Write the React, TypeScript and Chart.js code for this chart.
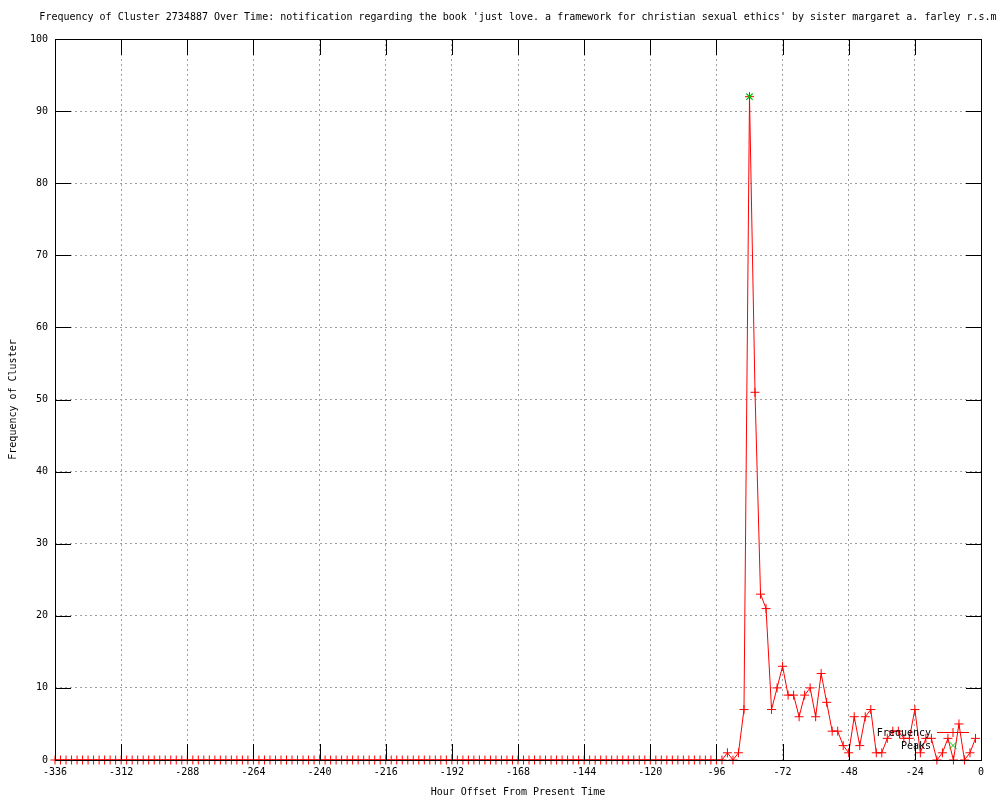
import React, { useEffect, useRef } from "react";
import { Chart, registerables } from "chart.js";

Chart.register(...registerables);

const titleText =
  "Frequency of Cluster 2734887 Over Time: notification regarding the book 'just love. a framework for christian sexual ethics' by sister margaret a. farley r.s.m";
const xAxisTitle = "Hour Offset From Present Time";
const yAxisTitle = "Frequency of Cluster";
const seriesName = "Frequency";
const peaksName = "Peaks";

const hours: number[] = [
  -336, -334, -332, -330, -328, -326, -324, -322, -320, -318, -316, -314,
  -312, -310, -308, -306, -304, -302, -300, -298, -296, -294, -292, -290,
  -288, -286, -284, -282, -280, -278, -276, -274, -272, -270, -268, -266,
  -264, -262, -260, -258, -256, -254, -252, -250, -248, -246, -244, -242,
  -240, -238, -236, -234, -232, -230, -228, -226, -224, -222, -220, -218,
  -216, -214, -212, -210, -208, -206, -204, -202, -200, -198, -196, -194,
  -192, -190, -188, -186, -184, -182, -180, -178, -176, -174, -172, -170,
  -168, -166, -164, -162, -160, -158, -156, -154, -152, -150, -148, -146,
  -144, -142, -140, -138, -136, -134, -132, -130, -128, -126, -124, -122,
  -120, -118, -116, -114, -112, -110, -108, -106, -104, -102, -100, -98,
  -96, -94, -92, -90, -88, -86, -84, -82, -80, -78, -76, -74,
  -72, -70, -68, -66, -64, -62, -60, -58, -56, -54, -52, -50,
  -48, -46, -44, -42, -40, -38, -36, -34, -32, -30, -28, -26,
  -24, -22, -20, -18, -16, -14, -12, -10, -8, -6, -4, -2,
];

const frequency: number[] = [
  0, 0, 0, 0, 0, 0, 0, 0, 0, 0, 0, 0,
  0, 0, 0, 0, 0, 0, 0, 0, 0, 0, 0, 0,
  0, 0, 0, 0, 0, 0, 0, 0, 0, 0, 0, 0,
  0, 0, 0, 0, 0, 0, 0, 0, 0, 0, 0, 0,
  0, 0, 0, 0, 0, 0, 0, 0, 0, 0, 0, 0,
  0, 0, 0, 0, 0, 0, 0, 0, 0, 0, 0, 0,
  0, 0, 0, 0, 0, 0, 0, 0, 0, 0, 0, 0,
  0, 0, 0, 0, 0, 0, 0, 0, 0, 0, 0, 0,
  0, 0, 0, 0, 0, 0, 0, 0, 0, 0, 0, 0,
  0, 0, 0, 0, 0, 0, 0, 0, 0, 0, 0, 0,
  0, 0, 1, 0, 1, 7, 92, 51, 23, 21, 7, 10,
  13, 9, 9, 6, 9, 10, 6, 12, 8, 4, 4, 2,
  1, 6, 2, 6, 7, 1, 1, 3, 4, 4, 3, 3,
  7, 1, 3, 3, 0, 1, 3, 0, 5, 0, 1, 3,
];

const peakHours: number[] = [-84];
const peakValues: number[] = [92];

const xMin = -336;
const xMax = 0;
const xStep = 24;
const yMin = 0;
const yMax = 100;
const yStep = 10;

const FONT = "'DejaVu Sans Mono', 'Liberation Mono', monospace";
const RED = "#ff0000";
const GREEN = "#00c000";

const decorPlugin = {
  id: "gnuplotDecor",
  afterDatasetsDraw(chart: any) {
    const { ctx, chartArea, scales } = chart;
    const { left, right, top, bottom } = chartArea;
    ctx.save();
    ctx.strokeStyle = "#000";
    ctx.lineWidth = 1;
    ctx.setLineDash([]);
    ctx.strokeRect(left + 0.5, top + 0.5, right - left, bottom - top);
    ctx.beginPath();
    for (const t of scales.x.ticks) {
      const px = Math.round(scales.x.getPixelForValue(t.value)) + 0.5;
      ctx.moveTo(px, bottom);
      ctx.lineTo(px, bottom - 16);
      ctx.moveTo(px, top);
      ctx.lineTo(px, top + 16);
    }
    for (const t of scales.y.ticks) {
      const py = Math.round(scales.y.getPixelForValue(t.value)) + 0.5;
      ctx.moveTo(left, py);
      ctx.lineTo(left + 16, py);
      ctx.moveTo(right + 1, py);
      ctx.lineTo(right - 15, py);
    }
    ctx.stroke();
    ctx.restore();
  },
  afterDraw(chart: any) {
    const { ctx, chartArea } = chart;
    const cx = (chartArea.left + chartArea.right) / 2;
    ctx.save();
    ctx.fillStyle = "#000";
    ctx.font = `10px ${FONT}`;
    ctx.textAlign = "center";
    ctx.textBaseline = "middle";
    ctx.fillText(titleText, cx, 17);

    const textRight = chartArea.right - 50;
    const sampleL = chartArea.right - 44;
    const sampleR = chartArea.right - 12;
    const sampleC = (sampleL + sampleR) / 2;
    const y1 = chartArea.bottom - 27.5;
    const y2 = chartArea.bottom - 14.5;
    ctx.textAlign = "right";
    ctx.fillText(seriesName, textRight, y1 + 1);
    ctx.fillText(peaksName, textRight, y2 + 1);

    ctx.strokeStyle = RED;
    ctx.lineWidth = 1;
    ctx.beginPath();
    ctx.moveTo(sampleL, y1);
    ctx.lineTo(sampleR, y1);
    ctx.moveTo(sampleC - 4.5, y1);
    ctx.lineTo(sampleC + 4.5, y1);
    ctx.moveTo(sampleC, y1 - 4.5);
    ctx.lineTo(sampleC, y1 + 4.5);
    ctx.stroke();

    ctx.strokeStyle = GREEN;
    ctx.beginPath();
    ctx.moveTo(sampleC - 3.5, y2 - 3.5);
    ctx.lineTo(sampleC + 3.5, y2 + 3.5);
    ctx.moveTo(sampleC - 3.5, y2 + 3.5);
    ctx.lineTo(sampleC + 3.5, y2 - 3.5);
    ctx.stroke();
    ctx.restore();
  },
};

export default function App() {
  const canvasRef = useRef<HTMLCanvasElement | null>(null);

  useEffect(() => {
    const canvas = canvasRef.current;
    if (!canvas) return;
    const freqPoints = hours.map((h, i) => ({ x: h, y: frequency[i] }));
    const peakPoints = peakHours.map((h, i) => ({ x: h, y: peakValues[i] }));

    const chart = new Chart(canvas, {
      type: "line",
      data: {
        datasets: [
          {
            label: seriesName,
            data: freqPoints,
            borderColor: RED,
            borderWidth: 1,
            tension: 0,
            fill: false,
            pointStyle: "cross",
            pointRadius: 4.5,
            pointBorderColor: RED,
            pointBorderWidth: 1,
            clip: false,
            order: 2,
          },
          {
            label: peaksName,
            data: peakPoints,
            showLine: false,
            pointStyle: "crossRot",
            pointRadius: 4.5,
            pointBorderColor: GREEN,
            pointBackgroundColor: GREEN,
            pointBorderWidth: 1.2,
            borderColor: GREEN,
            clip: false,
            order: 1,
          },
        ],
      },
      options: {
        responsive: false,
        animation: false,
        devicePixelRatio: 1,
        layout: { padding: { top: 39, right: 19, left: 0, bottom: 0 } },
        plugins: {
          legend: { display: false },
          title: { display: false },
          tooltip: { enabled: false },
        },
        scales: {
          x: {
            type: "linear",
            min: xMin,
            max: xMax,
            afterFit: (scale: any) => {
              scale.height = 40;
            },
            ticks: {
              stepSize: xStep,
              color: "#000",
              font: { family: FONT, size: 10 },
              padding: 6,
              maxRotation: 0,
              autoSkip: false,
            },
            grid: {
              color: "#a0a0a0",
              lineWidth: 1,
              drawTicks: false,
              borderDash: [2, 3],
            } as any,
            border: { display: false, dash: [2, 3] },
            title: {
              display: true,
              text: xAxisTitle,
              color: "#000",
              font: { family: FONT, size: 10 },
              padding: { top: 0, bottom: 2 },
            },
          },
          y: {
            type: "linear",
            min: yMin,
            max: yMax,
            afterFit: (scale: any) => {
              scale.width = 55;
            },
            ticks: {
              stepSize: yStep,
              color: "#000",
              font: { family: FONT, size: 10 },
              padding: 7,
            },
            grid: {
              color: "#a0a0a0",
              lineWidth: 1,
              drawTicks: false,
              borderDash: [2, 3],
            } as any,
            border: { display: false, dash: [2, 3] },
            title: {
              display: true,
              text: yAxisTitle,
              color: "#000",
              font: { family: FONT, size: 10 },
              padding: { top: 7, bottom: 0 },
            },
          },
        },
      },
      plugins: [decorPlugin],
    });
    return () => chart.destroy();
  }, []);

  return (
    <div style={{ position: "absolute", left: 0, top: 0, width: 1000, height: 800, background: "#fff" }}>
      <canvas ref={canvasRef} width={1000} height={800} style={{ width: 1000, height: 800 }} />
    </div>
  );
}
